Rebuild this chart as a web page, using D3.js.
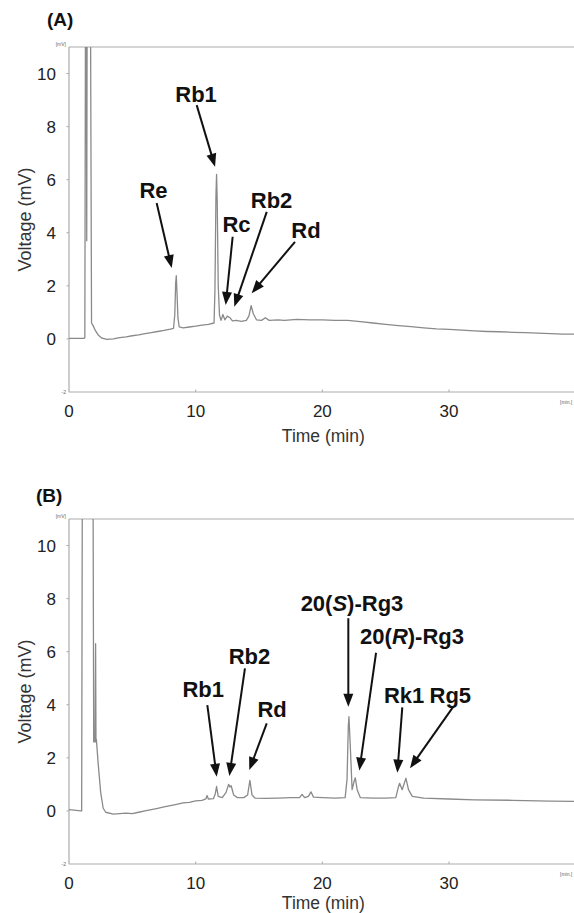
<!DOCTYPE html>
<html>
<head>
<meta charset="utf-8">
<script src="https://cdn.jsdelivr.net/npm/d3@7"></script>
<style>
  html, body { margin: 0; padding: 0; background: #fff; }
  svg { display: block; font-family: "Liberation Sans", Arial, sans-serif; }
</style>
</head>
<body>
<svg id="chart" width="574" height="913"></svg>
<script>
// ---------- DATA ----------
const yTicks = [0, 2, 4, 6, 8, 10];
const xTicks = [0, 10, 20, 30];
const xDomain = [0, 40];
const yDomain = [-2, 11];

// Panel A chromatogram: [time (min), voltage (mV)]
const traceA = [
  [0,0.02],[1.2,0.02],[1.25,0.05],[1.3,12],[1.37,12],[1.4,3.7],[1.43,12],[1.7,12],[1.78,0.6],
  [1.9,0.5],[2.1,0.3],[2.3,0.15],[2.6,0.03],[3,-0.02],[3.5,0.0],[4,0.05],[4.5,0.08],[5,0.12],
  [5.5,0.15],[6,0.2],[6.5,0.24],[7,0.28],[7.5,0.32],[8,0.37],[8.25,0.4],[8.35,0.9],[8.42,2.1],
  [8.47,2.38],[8.52,1.8],[8.6,0.8],[8.7,0.45],[9,0.42],[9.5,0.45],[10,0.48],[10.5,0.52],[11,0.55],
  [11.45,0.6],[11.52,1.8],[11.6,5.4],[11.65,6.2],[11.7,5.2],[11.78,2.0],[11.88,0.9],[12.0,0.7],
  [12.15,0.92],[12.3,0.72],[12.5,0.86],[12.7,0.8],[12.9,0.68],[13.2,0.7],[13.6,0.66],[14.0,0.7],
  [14.2,0.86],[14.38,1.25],[14.55,0.95],[14.8,0.72],[15.2,0.7],[15.5,0.8],[15.8,0.7],[16.5,0.72],
  [17,0.7],[18,0.74],[19,0.72],[20,0.72],[21,0.7],[22,0.7],[23,0.65],[24,0.6],[25,0.55],[26,0.5],
  [27,0.46],[28,0.42],[29,0.38],[30,0.36],[31,0.33],[32,0.3],[33,0.28],[34,0.27],[35,0.25],
  [36,0.24],[37,0.22],[38,0.2],[39,0.18],[40,0.18]
];

// Panel B chromatogram
const traceB = [
  [0,0.05],[0.95,0.0],[1.0,0.0],[1.05,12],[1.9,12],[1.95,2.6],[2.05,2.6],[2.1,6.3],[2.13,2.6],
  [2.16,2.7],[2.3,1.8],[2.5,0.7],[2.7,0.1],[2.9,-0.05],[3.5,-0.12],[4,-0.1],[4.5,-0.08],[5,-0.1],
  [5.5,-0.05],[6,0.0],[6.5,0.05],[7,0.1],[7.5,0.15],[8,0.2],[8.5,0.25],[9,0.3],[9.5,0.32],[10,0.38],
  [10.5,0.4],[10.8,0.45],[10.9,0.58],[11.0,0.45],[11.4,0.46],[11.55,0.65],[11.65,0.92],[11.78,0.55],
  [12.1,0.5],[12.4,0.7],[12.6,1.0],[12.7,0.9],[12.8,0.95],[13.0,0.6],[13.3,0.5],[13.8,0.5],[14.1,0.6],
  [14.28,1.15],[14.45,0.6],[14.7,0.48],[15.5,0.47],[16.5,0.48],[17.5,0.5],[18.2,0.5],[18.4,0.62],
  [18.6,0.5],[18.9,0.55],[19.1,0.72],[19.3,0.52],[20,0.5],[21,0.48],[21.8,0.5],[21.95,1.2],
  [22.05,3.2],[22.1,3.55],[22.2,2.5],[22.35,0.8],[22.5,1.1],[22.6,1.25],[22.75,0.8],[23,0.5],
  [24,0.48],[25,0.48],[25.8,0.5],[26.0,0.9],[26.1,1.04],[26.3,0.8],[26.6,1.23],[26.8,0.8],
  [27.1,0.55],[28,0.48],[30,0.45],[32,0.42],[35,0.4],[38,0.37],[40,0.36]
];

// Annotations: label anchor [t, v], arrow start [t, v], arrow tip [t, v]
const labelsA = [
  { text: "Re",  at: [6.67, 5.31],  from: [6.92, 5.12],  to: [8.11, 2.67] },
  { text: "Rb1", at: [10.03, 8.93], from: [10.08, 8.81], to: [11.53, 6.49] },
  { text: "Rc",  at: [13.22, 4.03], from: [12.92, 3.85], to: [12.37, 1.28] },
  { text: "Rb2", at: [15.99, 4.93], from: [15.61, 4.79], to: [13.05, 1.21] },
  { text: "Rd",  at: [18.71, 3.80], from: [17.84, 3.66], to: [14.42, 1.72] }
];
const labelsB = [
  { text: "Rb1", at: [10.60, 4.29], from: [10.92, 3.99], to: [11.66, 1.29] },
  { text: "Rb2", at: [14.25, 5.54], from: [13.89, 5.37], to: [12.66, 1.32] },
  { text: "Rd",  at: [16.03, 3.54], from: [15.61, 3.30], to: [14.23, 1.54] },
  { text: ["20(", "S", ")-Rg3"], at: [22.34, 7.53], from: [22.05, 7.26], to: [22.05, 3.93] },
  { text: ["20(", "R", ")-Rg3"], at: [27.08, 6.28], from: [24.24, 5.96], to: [22.92, 1.52] },
  { text: "Rk1", at: [26.45, 4.08], from: [26.31, 3.90], to: [25.92, 1.44] },
  { text: "Rg5", at: [30.10, 4.07], from: [30.34, 3.93], to: [26.92, 1.61] }
];

const panels = [
  { tag: "(A)", tagX: 47, tagY: 26, top: 47, bottom: 392, titleOff: 50, trace: traceA, labels: labelsA, id: "a" },
  { tag: "(B)", tagX: 36, tagY: 502, top: 519, bottom: 864, titleOff: 45, trace: traceB, labels: labelsB, id: "b" }
];

// ---------- DRAW ----------
const svg = d3.select("#chart");
const left = 69, right = 575.7;
const axisColor = "#ababab";
const traceColor = "#8a8a8a";

panels.forEach(p => {
  const x = d3.scaleLinear().domain(xDomain).range([left, right]);
  const y = d3.scaleLinear().domain(yDomain).range([p.bottom, p.top]);
  const g = svg.append("g");

  g.append("defs").append("clipPath").attr("id", "clip-" + p.id)
    .append("rect").attr("x", left).attr("y", p.top)
    .attr("width", right - left).attr("height", p.bottom - p.top);

  // frame: top, left, bottom
  g.append("line").attr("x1", left).attr("x2", right).attr("y1", p.top).attr("y2", p.top)
    .attr("stroke", axisColor).attr("stroke-width", 1.2);
  g.append("line").attr("x1", left).attr("x2", left).attr("y1", p.top).attr("y2", p.bottom)
    .attr("stroke", axisColor).attr("stroke-width", 1.2);
  g.append("line").attr("x1", left).attr("x2", right).attr("y1", p.bottom).attr("y2", p.bottom)
    .attr("stroke", axisColor).attr("stroke-width", 1.2);

  // y ticks
  yTicks.forEach(t => {
    g.append("line").attr("x1", left - 2.5).attr("x2", left).attr("y1", y(t)).attr("y2", y(t))
      .attr("stroke", axisColor).attr("stroke-width", 1);
    g.append("text").attr("x", 56).attr("y", y(t) + 6).attr("text-anchor", "end")
      .attr("font-size", 17).attr("fill", "#222").text(t);
  });
  g.append("text").attr("x", 66).attr("y", y(-2) + 1.5).attr("text-anchor", "end")
    .attr("font-size", 5).attr("fill", "#666").text("-2");
  g.append("text").attr("x", 66).attr("y", p.top - 1).attr("text-anchor", "end")
    .attr("font-size", 5).attr("fill", "#666").text("[mV]");

  // x ticks
  xTicks.forEach(t => {
    if (t > 0) {
      g.append("line").attr("x1", x(t)).attr("x2", x(t)).attr("y1", p.bottom).attr("y2", p.bottom - 2.5)
        .attr("stroke", axisColor).attr("stroke-width", 1);
    }
    g.append("text").attr("x", x(t)).attr("y", p.bottom + 25).attr("text-anchor", "middle")
      .attr("font-size", 17).attr("fill", "#222").text(t);
  });
  g.append("text").attr("x", 560).attr("y", p.bottom + 12).attr("text-anchor", "start")
    .attr("font-size", 5).attr("fill", "#666").text("[min.]");

  // axis titles
  g.append("text").attr("x", (left + right) / 2 + 1).attr("y", p.bottom + p.titleOff)
    .attr("text-anchor", "middle").attr("font-size", 17.5).attr("fill", "#333").text("Time (min)");
  g.append("text").attr("transform", `translate(31,${(p.top + p.bottom) / 2}) rotate(-90)`)
    .attr("text-anchor", "middle").attr("font-size", 18).attr("fill", "#333").text("Voltage (mV)");

  // panel tag
  g.append("text").attr("x", p.tagX).attr("y", p.tagY).attr("font-size", 19)
    .attr("font-weight", "bold").attr("fill", "#111").text(p.tag);

  // trace
  const line = d3.line().x(d => x(d[0])).y(d => y(d[1]));
  g.append("path").datum(p.trace).attr("d", line)
    .attr("clip-path", `url(#clip-${p.id})`)
    .attr("fill", "none").attr("stroke", traceColor).attr("stroke-width", 1.3)
    .attr("stroke-linejoin", "round");

  // annotations
  p.labels.forEach(l => {
    const t = g.append("text").attr("x", x(l.at[0])).attr("y", y(l.at[1]))
      .attr("text-anchor", "middle").attr("font-size", 22).attr("font-weight", "bold")
      .attr("fill", "#111");
    if (Array.isArray(l.text)) {
      l.text.forEach((s, i) => {
        t.append("tspan").attr("font-style", i === 1 ? "italic" : "normal").text(s);
      });
    } else {
      t.text(l.text);
    }
    const x0 = x(l.from[0]), y0 = y(l.from[1]), x1 = x(l.to[0]), y1 = y(l.to[1]);
    const dx = x1 - x0, dy = y1 - y0, len = Math.hypot(dx, dy);
    const ux = dx / len, uy = dy / len;
    const headL = 13, headW = 5;
    const bx = x1 - ux * headL, by = y1 - uy * headL;
    g.append("line").attr("x1", x0).attr("y1", y0).attr("x2", bx + ux * 2).attr("y2", by + uy * 2)
      .attr("stroke", "#111").attr("stroke-width", 2);
    g.append("path")
      .attr("d", `M${x1},${y1}L${bx - uy * headW},${by + ux * headW}L${bx + uy * headW},${by - ux * headW}Z`)
      .attr("fill", "#111");
  });
});
</script>
</body>
</html>
